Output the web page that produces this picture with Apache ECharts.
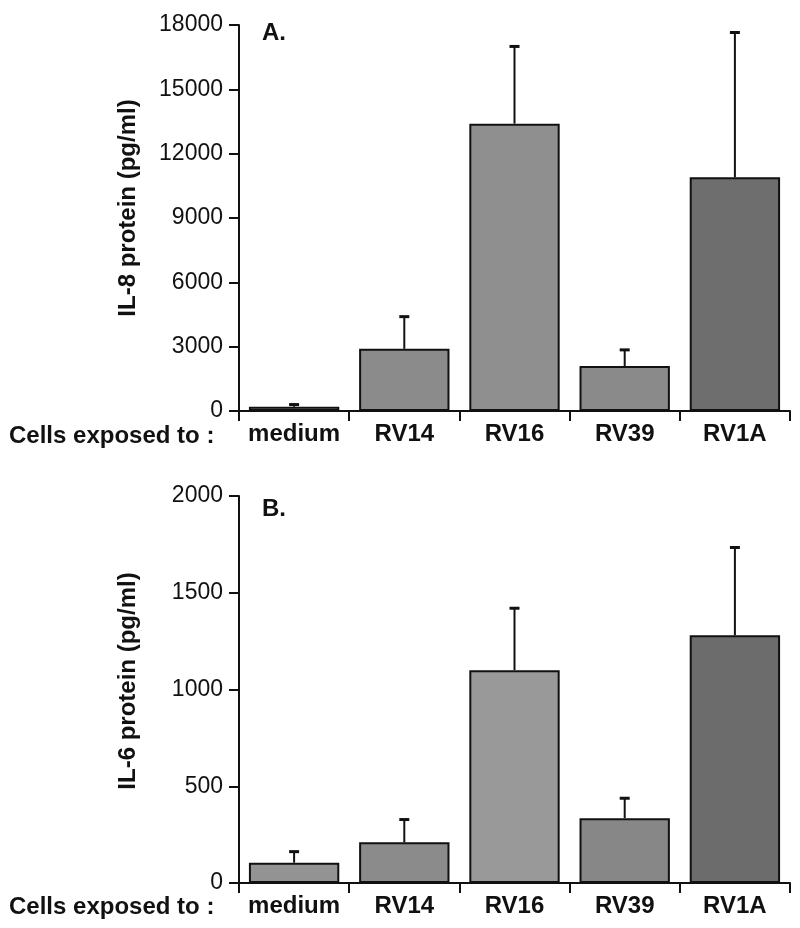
<!DOCTYPE html>
<html>
<head>
<meta charset="utf-8">
<script src="https://cdn.jsdelivr.net/npm/echarts@6/dist/echarts.min.js"></script>
<style>
html,body{margin:0;padding:0;background:#fff;}
#chart{width:800px;height:928px;}
</style>
</head>
<body>
<div id="chart"></div>
<script>
// ---- data ----
const categories = ['medium', 'RV14', 'RV16', 'RV39', 'RV1A'];
const il8Values = [200, 2900, 13400, 2100, 10900];
const il8ErrTop = [300, 4400, 17000, 2850, 17650];
const il6Values = [105, 210, 1100, 335, 1280];
const il6ErrTop = [162, 328, 1420, 438, 1734];
const il8Axis = { min: 0, max: 18000, interval: 3000 };
const il6Axis = { min: 0, max: 2000, interval: 500 };
const il8Title = 'IL-8 protein (pg/ml)';
const il6Title = 'IL-6 protein (pg/ml)';
const xTitle = 'Cells exposed to :';

// ---- styles ----
const il8Colors = ['#b2b2b2', '#8b8b8b', '#8f8f8f', '#8a8a8a', '#6e6e6e'];
const il6Colors = ['#939393', '#8b8b8b', '#999999', '#878787', '#6c6c6c'];
const FONT = '"Liberation Sans", Arial, Helvetica, sans-serif';

const chart = echarts.init(document.getElementById('chart'), null, { renderer: 'canvas' });

function errRender(params, api) {
  const i = api.value(0);
  const top = api.coord([i, api.value(2)]);
  const base = api.coord([i, api.value(1)]);
  const cap = 5;
  return {
    type: 'group',
    children: [
      { type: 'line', shape: { x1: top[0], y1: base[1], x2: top[0], y2: top[1] },
        style: { stroke: '#111', lineWidth: 2 } },
      { type: 'line', shape: { x1: top[0] - cap, y1: top[1], x2: top[0] + cap, y2: top[1] },
        style: { stroke: '#111', lineWidth: 3 } }
    ]
  };
}

function xAxisFor(gridIndex) {
  return {
    type: 'category', gridIndex: gridIndex, data: categories,
    axisLine: { lineStyle: { color: '#111', width: 2 } },
    axisTick: { show: true, alignWithLabel: false, length: 10, lineStyle: { color: '#111', width: 2 } },
    axisLabel: { color: '#111', fontFamily: FONT, fontWeight: 'bold', fontSize: 24, margin: 11, interval: 0 }
  };
}
function yAxisFor(gridIndex, ax) {
  return {
    type: 'value', gridIndex: gridIndex, min: ax.min, max: ax.max, interval: ax.interval,
    axisLine: { show: true, lineStyle: { color: '#111', width: 2 } },
    axisTick: { show: true, length: 10, lineStyle: { color: '#111', width: 2 } },
    axisLabel: { color: '#111', fontFamily: FONT, fontSize: 23, margin: 16,
      formatter: function (v) { return String(v); } },
    splitLine: { show: false }
  };
}
function barData(vals, colors) {
  return vals.map((v, i) => ({ value: v, itemStyle: { color: colors[i] } }));
}
function errData(vals, tops) {
  return vals.map((v, i) => [i, v, tops[i]]);
}
function vText(text, x, y) {
  return { type: 'text', x: x, y: y, rotation: Math.PI / 2,
    style: { text: text, font: 'bold 24px ' + FONT, fill: '#111', align: 'center', verticalAlign: 'middle' } };
}

chart.setOption({
  animation: false,
  backgroundColor: '#fff',
  grid: [
    { left: 239, width: 551, top: 25, height: 386 },
    { left: 239, width: 551, top: 496, height: 387 }
  ],
  xAxis: [xAxisFor(0), xAxisFor(1)],
  yAxis: [yAxisFor(0, il8Axis), yAxisFor(1, il6Axis)],
  series: [
    { type: 'bar', xAxisIndex: 0, yAxisIndex: 0, data: barData(il8Values, il8Colors), barCategoryGap: '18%',
      itemStyle: { borderColor: '#111', borderWidth: 2 } },
    { type: 'custom', xAxisIndex: 0, yAxisIndex: 0, data: errData(il8Values, il8ErrTop), renderItem: errRender, z: 1 },
    { type: 'bar', xAxisIndex: 1, yAxisIndex: 1, data: barData(il6Values, il6Colors), barCategoryGap: '18%',
      itemStyle: { borderColor: '#111', borderWidth: 2 } },
    { type: 'custom', xAxisIndex: 1, yAxisIndex: 1, data: errData(il6Values, il6ErrTop), renderItem: errRender, z: 1 }
  ],
  graphic: [
    vText(il8Title, 128, 208),
    vText(il6Title, 128, 681),
    { type: 'text', left: 262, top: 21, style: { text: 'A.', font: 'bold 24px ' + FONT, fill: '#111' } },
    { type: 'text', left: 262, top: 497, style: { text: 'B.', font: 'bold 24px ' + FONT, fill: '#111' } },
    { type: 'text', left: 9, top: 424, style: { text: xTitle, font: 'bold 24px ' + FONT, fill: '#111' } },
    { type: 'text', left: 9, top: 895, style: { text: xTitle, font: 'bold 24px ' + FONT, fill: '#111' } }
  ]
});
</script>
</body>
</html>
